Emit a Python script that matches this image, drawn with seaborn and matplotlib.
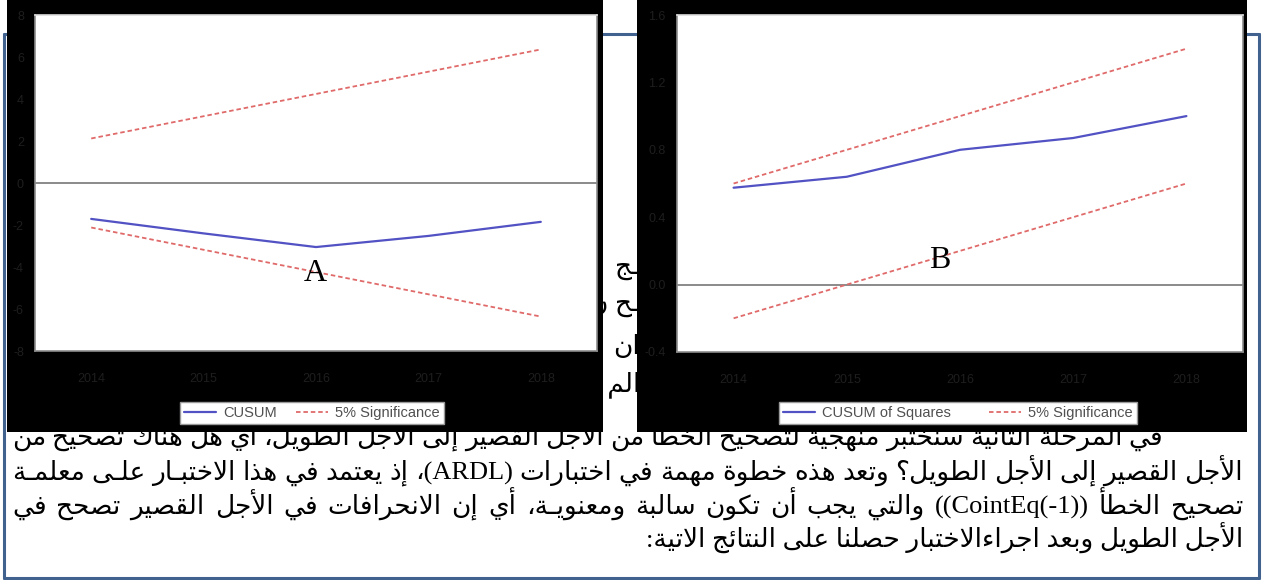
import matplotlib
matplotlib.use("Agg")
import matplotlib.pyplot as plt
import seaborn as sns
import pandas as pd
from matplotlib.lines import Line2D

# ---------------- data ----------------
years = [2014, 2015, 2016, 2017, 2018]
cusum = [-1.71, -2.40, -3.05, -2.52, -1.85]
cusum_upper = [2.12, 3.18, 4.24, 5.30, 6.36]
cusum_lower = [-2.12, -3.18, -4.24, -5.30, -6.36]
cusumsq = [0.575, 0.64, 0.80, 0.87, 1.00]
cusumsq_upper = [0.60, 0.80, 1.00, 1.20, 1.40]
cusumsq_lower = [-0.20, 0.00, 0.20, 0.40, 0.60]
cusum_yticks = [-8, -6, -4, -2, 0, 2, 4, 6, 8]
cusumsq_yticks = [-0.4, 0.0, 0.4, 0.8, 1.2, 1.6]
legend_a = ["CUSUM", "5% Significance"]
legend_b = ["CUSUM of Squares", "5% Significance"]
panel_tags = ["A", "B"]

body_lines = [
    "في المرحلة الثانية سنختبر منهجية لتصحيح الخطأ من الأجل القصير إلى الأجل الطويل، أي هل هناك تصحيح من",
    "الأجل القصير إلى الأجل الطويل؟ وتعد هذه خطوة مهمة في اختبارات (ARDL)، إذ يعتمد في هذا الاختبـار علـى معلمـة",
    "تصحيح الخطأ ((CointEq(-1)) والتي يجب أن تكون سالبة ومعنويـة، أي إن الانحرافات في الأجل القصير تصحح في",
    "الأجل الطويل وبعد اجراءالاختبار حصلنا على النتائج الاتية:",
]
gap_fragments = ["ـج", "ـح ن", "ان", "الم ة"]

# ---------------- Arabic shaping helpers ----------------
DUAL = dict(zip("بتثجحخسشصضطظعغفقكلمنهي",
                [0xFE8F, 0xFE95, 0xFE99, 0xFE9D, 0xFEA1, 0xFEA5, 0xFEB1, 0xFEB5,
                 0xFEB9, 0xFEBD, 0xFEC1, 0xFEC5, 0xFEC9, 0xFECD, 0xFED1, 0xFED5,
                 0xFED9, 0xFEDD, 0xFEE1, 0xFEE5, 0xFEE9, 0xFEF1]))
DUAL["ئ"] = 0xFE89
RIGHT = {"آ": 0xFE81, "أ": 0xFE83, "ؤ": 0xFE85, "إ": 0xFE87, "ا": 0xFE8D, "ة": 0xFE93,
         "د": 0xFEA9, "ذ": 0xFEAB, "ر": 0xFEAD, "ز": 0xFEAF, "و": 0xFEED, "ى": 0xFEEF}
LAMALEF = {"آ": 0xFEF5, "أ": 0xFEF7, "إ": 0xFEF9, "ا": 0xFEFB}
TATWEEL = "ـ"
MIRROR = {"(": ")", ")": "("}


def joining(c):
    if c in DUAL or c == TATWEEL:
        return "D"
    if c in RIGHT:
        return "R"
    return None


def shape(s):
    res, prev_dual, i, n = [], False, 0, len(s)
    while i < n:
        c = s[i]
        t = joining(c)
        if t is None:
            res.append(c)
            prev_dual = False
            i += 1
            continue
        if c == "ل" and i + 1 < n and s[i + 1] in LAMALEF:
            cp = LAMALEF[s[i + 1]]
            res.append(chr(cp + 1 if prev_dual else cp))
            prev_dual = False
            i += 2
            continue
        nxt = s[i + 1] if i + 1 < n else ""
        jn = t == "D" and joining(nxt) is not None
        jp = prev_dual
        if c == TATWEEL:
            res.append(c)
        elif t == "R":
            res.append(chr(RIGHT[c] + (1 if jp else 0)))
        else:
            cp = DUAL[c]
            res.append(chr(cp + 3 if (jp and jn) else cp + 1 if jp else cp + 2 if jn else cp))
        prev_dual = t == "D"
        i += 1
    return "".join(res)


def visual(s):
    s = shape(s)

    def cls(c):
        if c.isascii() and c.isalnum():
            return "L"
        if "\u0600" <= c <= "\u06FF" or "\uFB50" <= c <= "\uFEFF":
            return "R"
        return "N"

    types = [cls(c) for c in s]
    n, i = len(s), 0
    while i < n:
        if types[i] == "N":
            j = i
            while j < n and types[j] == "N":
                j += 1
            before = types[i - 1] if i > 0 else "R"
            after = types[j] if j < n else "R"
            d = "L" if before == "L" and after == "L" else "R"
            for k in range(i, j):
                types[k] = d
            i = j
        else:
            i += 1
    runs = []
    for c, t in zip(s, types):
        if runs and runs[-1][0] == t:
            runs[-1][1].append(c)
        else:
            runs.append([t, [c]])
    out = []
    for t, chars in reversed(runs):
        if t == "R":
            out.append("".join(MIRROR.get(c, c) for c in reversed(chars)))
        else:
            out.append("".join(chars))
    return "".join(out)


# ---------------- figure ----------------
sns.set_style("white")
plt.rcParams["font.family"] = ["Liberation Sans", "DejaVu Sans"]

W, H = 1262, 580
fig = plt.figure(figsize=(W / 100, H / 100), dpi=100, facecolor="white")


def rect(x0, y0, x1, y1):
    return [x0 / W, 1 - y1 / H, (x1 - x0) / W, (y1 - y0) / H]


def fx(x):
    return x / W


def fy(y):
    return 1 - y / H


# page frame
frame_col = "#41628f"
for xs, ys in [([4, 4], [34, 578]), ([4, 1259], [34, 34]),
               ([1259, 1259], [34, 578]), ([4, 1259], [578, 578])]:
    fig.add_artist(Line2D([fx(v) for v in xs], [fy(v) for v in ys],
                          color=frame_col, lw=2.2, zorder=1))

text_font = ["Liberation Serif", "DejaVu Sans"]
text_size = 19
renderer = fig.canvas.get_renderer()


def place_line(text, x_left, x_right, y_base, justify=True):
    vis = visual(text)
    if not justify:
        fig.text(fx(x_right), fy(y_base), vis, ha="right", va="baseline",
                 family=text_font, fontsize=text_size, color="black", zorder=1)
        return
    words = vis.split(" ")
    objs = [fig.text(0, fy(y_base), w, ha="left", va="baseline", family=text_font,
                     fontsize=text_size, color="black", zorder=1) for w in words]
    widths = [o.get_window_extent(renderer=renderer).width for o in objs]
    gap = (x_right - x_left - sum(widths)) / max(len(words) - 1, 1)
    x = x_left
    for o, w in zip(objs, widths):
        o.set_x(fx(x))
        x += w + gap


place_line(body_lines[0], 12, 1163, 445)
place_line(body_lines[1], 12, 1243, 480)
place_line(body_lines[2], 12, 1243, 514)
place_line(body_lines[3], 12, 1243, 548, justify=False)

for frag, yb in zip(gap_fragments, [274, 311, 354, 391]):
    fig.text(fx(640), fy(yb), visual(frag), ha="right", va="baseline",
             family=text_font, fontsize=text_size, color="black", zorder=1)

# ---------------- panels ----------------
blue = "#5252c4"
red = "#e06a6a"
dash = (0, (2.5, 1.6))


def panel(bg, plot, series, bands, yticks, ylim, fmt, labels, leg_center, colsp):
    bga = fig.add_axes(rect(*bg), zorder=5)
    bga.set_facecolor("black")
    bga.set_xticks([])
    bga.set_yticks([])
    for s in bga.spines.values():
        s.set_visible(False)

    ax = fig.add_axes(rect(*plot), zorder=6)
    ax.set_facecolor("white")
    ax.axhline(0, color="#8a8a8a", lw=1.4, zorder=1)
    df = pd.DataFrame({"year": years, "stat": series,
                       "up": bands[0], "lo": bands[1]})
    sns.lineplot(data=df, x="year", y="stat", ax=ax, color=blue, lw=1.6,
                 label=labels[0], zorder=3)
    sns.lineplot(data=df, x="year", y="up", ax=ax, color=red, lw=1.3,
                 linestyle=dash, label=labels[1], zorder=2)
    sns.lineplot(data=df, x="year", y="lo", ax=ax, color=red, lw=1.3,
                 linestyle=dash, label="_nolegend_", zorder=2)
    ax.set_xlim(2013.5, 2018.5)
    ax.set_ylim(*ylim)
    ax.set_xticks(years)
    ax.set_yticks(yticks)
    ax.set_yticklabels([fmt.format(v) for v in yticks])
    ax.set_xlabel("")
    ax.set_ylabel("")
    ax.tick_params(length=0, labelsize=9, labelcolor="#1e1e1e")
    ax.tick_params(axis="x", pad=16)
    ax.tick_params(axis="y", pad=8)
    for name, s in ax.spines.items():
        s.set_color("#8c8c8c")
        s.set_linewidth(1.2)
    ax.spines["top"].set_color("#dddddd")
    handles, _ = ax.get_legend_handles_labels()
    leg = ax.legend(handles[:2], labels, loc="center",
                    bbox_to_anchor=(fx(leg_center[0]), fy(leg_center[1])),
                    bbox_transform=fig.transFigure, ncol=2, frameon=True,
                    fancybox=False, edgecolor="#9a9a9a", facecolor="white",
                    framealpha=1, fontsize=10.5, handlelength=2.2,
                    handletextpad=0.5, columnspacing=colsp, borderpad=0.25,
                    borderaxespad=0)
    for t in leg.get_texts():
        t.set_color("#505050")
    return ax


panel((7, 0, 603, 432), (35, 15, 597, 351), cusum, (cusum_upper, cusum_lower),
      cusum_yticks, (-8, 8), "{:d}", legend_a, (312, 413), 1.3)
panel((637, 0, 1247, 432), (677, 15, 1243, 352), cusumsq,
      (cusumsq_upper, cusumsq_lower), cusumsq_yticks, (-0.4, 1.6), "{:.1f}",
      legend_b, (958, 413), 2.6)

# panel tags
fig.text(fx(315), fy(281), panel_tags[0], ha="center", va="baseline",
         family=["Liberation Serif"], fontsize=23, color="black", zorder=10)
fig.text(fx(940), fy(268), panel_tags[1], ha="center", va="baseline",
         family=["Liberation Serif"], fontsize=23, color="black", zorder=10)

fig.savefig("out.png", dpi=100, facecolor="white")
